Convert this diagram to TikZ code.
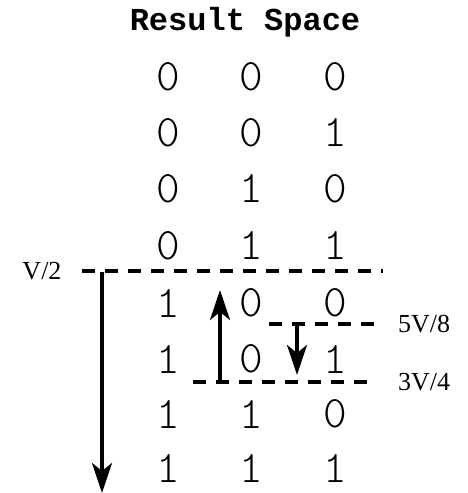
\documentclass[tikz,border=0pt]{standalone}
\usepackage{fontspec}
\setmainfont{Liberation Serif}
\newfontfamily\titlefont{Liberation Mono}
\newfontfamily\digitfont{Latin Modern Mono Light}
\usetikzlibrary{arrows.meta}
\begin{document}
\begin{tikzpicture}[x=1pt,y=-1pt,
  digit/.style={font=\digitfont\fontsize{45}{45}\selectfont, inner sep=0pt, text=black},
  lbl/.style={font=\fontsize{26}{26}\selectfont, inner sep=0pt},
  thr/.style={line width=3.2pt, dash pattern=on 13pt off 10pt},
  move/.style={line width=3.4pt, -{Stealth[length=30pt,width=20pt,inset=8pt]}}]
\useasboundingbox (0,0) rectangle (467,493);
\node[font=\titlefont\bfseries\fontsize{32}{32}\selectfont, inner sep=0pt] (title) at (245,22) {Result Space};
\foreach \r/\y/\a/\b/\c in {1/77/0/0/0, 2/133/0/0/1, 3/189/0/1/0, 4/246/0/1/1, 5/303/1/0/0, 6/359/1/0/1, 7/414/1/1/0, 8/468/1/1/1}{
  \node[digit] (d\r a) at (168,\y) {\a};
  \node[digit] (d\r b) at (251,\y) {\b};
  \node[digit] (d\r c) at (335,\y) {\c};
}
\node[lbl] (v2) at (42,271) {V/2};
\node[lbl, anchor=west] (v58) at (398,324) {5V/8};
\node[lbl, anchor=west] (v34) at (398,382) {3V/4};
\coordinate (h1a) at (82,271);
\coordinate (h1b) at (383,271);
\coordinate (h2a) at (269,324);
\coordinate (h2b) at (374,324);
\coordinate (h3a) at (193,382);
\coordinate (h3b) at (376,382);
\draw[thr] (h1a) -- (h1b);
\draw[thr] (h2a) -- (h2b);
\draw[thr] (h3a) -- (h3b);
\coordinate (a1s) at (102,272);
\coordinate (a1e) at (102,493);
\coordinate (a2s) at (220,382);
\coordinate (a2e) at (220,290);
\coordinate (a3s) at (297,326);
\coordinate (a3e) at (297,375);
\draw[move] (a1s) -- (a1e);
\draw[move] (a2s) -- (a2e);
\draw[move] (a3s) -- (a3e);
\end{tikzpicture}
\end{document}
